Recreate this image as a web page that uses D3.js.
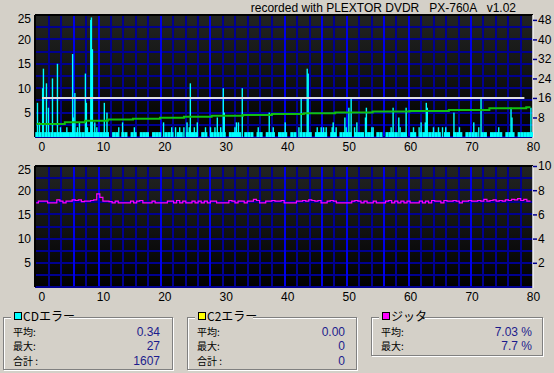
<!DOCTYPE html>
<html><head><meta charset="utf-8">
<script src="https://cdn.jsdelivr.net/npm/d3@7"></script>
<style>
body{margin:0;background:#d4d0c8;}
svg{display:block;font-family:"Liberation Sans",Arial,sans-serif;}
</style></head><body><div id="chart"></div>
<script>
// C1 spikes [minute, errors]
const c1Spikes = [[-0.68,7],[-0.36,3],[0.16,10],[0.29,14],[0.78,11],[1.1,6],[1.76,12],[2.57,15],[3.06,2],[4.1,2],
  [5.04,17],[5.17,4],[5.41,9],[5.82,2],[6.15,3],[7.12,13],[7.28,7],[7.45,2],[8.0,24],[8.1,24.5],[8.26,18],[8.65,3],[8.98,2],
  [10.2,7],[10.63,5],[12.55,2],[13.17,3],[15.09,2],[19.84,3],[21.17,2],[21.79,2],[22.47,2],[23.15,2],[23.66,3],[24.03,2],
  [24.2,11],[24.85,2],[25.33,3],[26.67,2],[27.48,2],[28.2,2],[28.59,4],[29.14,2],[29.56,10],[29.72,5],[31.46,2],[31.7,3],
  [32.03,3],[32.65,10],[35.25,2],[37.04,5],[37.69,2],[39.64,3],[41.87,2],[42.24,8],[43.22,14],[43.38,13],[44.85,2],[45.5,2],
  [45.89,2],[46.31,2],[47.28,2],[47.45,3],[47.93,2],[49.35,4],[49.56,2],[50.0,6],[50.37,8],[50.93,2],[51.3,3],[52.7,4],
  [52.85,6],[53.74,2],[53.95,2],[56.88,2],[57.2,6],[58.13,4],[58.34,2],[59.32,6],[60.52,2],[61.43,2],[61.76,3],[62.44,3],
  [62.6,7],[62.76,6],[63.77,2],[64.59,2],[65.24,2],[65.77,2],[67.1,5],[68.0,2],[70.33,3],[71.14,2],[71.51,8],[74.39,2],
  [76.39,6],[76.55,4],[79.63,6]];
// C1 low level, one value per half minute from -1.0
const c1BaseStart = -1.0, c1BaseStep = 0.5;
const c1Base = [1,1,1,1,1,1,1,1,1,1, 1,1,1,1,1,1,1,1,1,1, 1,1,1,1,0,1,1,0,1,1, 0,1,1,0,1,1,1,0,1,1,
  1,0,1,1,1,0,1,1,0,1, 1,1,1,0,1,1,0,1,1,1, 1,1,0,1,1,1,1,0,1,1, 1,0,1,1,0,1,1,1,0,1,
  1,1,0,1,1,0,1,1,1,1, 0,1,1,1,1,0,1,1,0,1, 1,1,1,0,1,1,1,0,1,1, 0,1,1,0,1,1,1,1,0,1,
  1,0,1,1,0,1,1,1,1,1, 1,1,0,1,1,0,1,1,1,0, 1,1,1,1,0,1,1,0,1,1, 1,1,0,1,1,1,0,1,1,1, 1,1];
// read speed (right axis) step points
const speedSteps = [[-0.8,5.3],[3.8,6.0],[7.1,6.7],[10.8,7.2],[14.9,7.5],[19.3,7.9],[23.2,8.3],[27.7,8.7],[32.8,9.0],
  [37.5,9.4],[42.7,9.7],[47.8,10.0],[53.9,10.4],[59.9,10.7],[66.3,11.1],[72.9,11.8],[78.9,12.2],[79.6,12.2]];
const writeSpeed = [[0.1,16],[78.6,16]];
// jitter %, one value per half minute from -1.0
const jitStart = -1.0, jitStep = 0.5;
const jitter = [6.95,7.1,7.1,7.1,6.95,6.95,6.95,7.2,7.1,6.95, 7.1,7.1,7.2,7.15,7.2,7.05,7.1,7.1,7.15,7.2,
  7.7,7.4,7.1,7.1,7.05,6.95,7.1,6.95,6.95,6.95, 6.95,7.1,6.95,7.1,7.15,6.95,6.95,6.95,7.1,6.95,
  6.95,6.95,6.95,7.1,7.1,6.95,7.15,6.95,7.1,6.95, 6.95,7.1,6.95,7.1,6.95,7.1,6.95,7.1,7.1,6.95,
  6.95,6.95,6.95,7.15,7.1,6.95,7.1,7.1,6.95,7.1, 7.1,7.25,7.15,6.95,6.95,7.1,7.1,7.15,7.1,7.1,
  7.15,6.95,6.95,6.95,6.95,7.1,7.1,7.15,7.1,7.2, 7.15,7.1,7.15,6.95,6.95,7.1,7.15,7.1,6.95,6.95,
  6.95,6.95,6.95,7.1,7.15,7.1,6.95,7.1,6.95,6.95, 7.1,6.95,6.95,6.95,7.1,7.15,6.95,7.1,6.95,7.1,
  6.95,7.1,6.95,6.95,6.95,7.1,6.95,7.1,6.95,7.15, 7.1,7.1,6.95,7.15,7.1,7.1,7.15,7.1,6.95,7.1,
  7.1,7.15,7.1,7.1,7.15,7.1,7.25,7.1,7.15,7.2, 7.1,7.15,7.1,7.2,7.15,7.25,7.2,7.3,7.15,7.25, 7.1,7.1];

const xTicks = [0,10,20,30,40,50,60,70,80];
const leftTicks = [5,10,15,20,25];
const speedTicks = [8,16,24,32,40,48];
const jitterTicks = [2,4,6,8,10];
const brightCols = [3,5,10,14,20,23,25,28,30,35];

const statTitles = ["CDエラー","C2エラー","ジッタ"];
const statColors = ["#00ffff","#ffff00","#ff00ff"];
const statLabels = [["平均:","最大:","合計 :"],["平均:","最大:","合計 :"],["平均:","最大:"]];
const statValues = [["0.34","27","1607"],["0.00","0","0"],["7.03 %","7.7 %"]];

const W = 554, H = 373;
const svg = d3.select("#chart").append("svg").attr("width", W).attr("height", H);

const grad = svg.append("defs").append("linearGradient").attr("id","bg")
  .attr("x1",0).attr("y1",0).attr("x2",0).attr("y2",1);
grad.append("stop").attr("offset",0).attr("stop-color","#222422");
grad.append("stop").attr("offset",0.5).attr("stop-color","#121312");
grad.append("stop").attr("offset",1).attr("stop-color","#000000");

let left = 35, right = 533;
let x = d3.scaleLinear().domain([-1.05, 80]).range([left, right]);
let gx = d3.scaleLinear().domain([0, 40]).range([36.6, right]);
let gridCol = "#000090", brightCol = "#0000e8";

function panel(top, bottom, rightMax, rightTicks) {
  let g = svg.append("g");
  let yL = d3.scaleLinear().domain([0, 25]).range([bottom, top]);
  let yR = d3.scaleLinear().domain([0, rightMax]).range([bottom, top]);

  g.append("rect").attr("x", left).attr("y", top).attr("width", right - left).attr("height", bottom - top)
    .attr("fill", "url(#bg)");

  g.selectAll(".hg").data(d3.range(2.5, 25, 2.5)).enter().append("line")
    .attr("x1", left).attr("x2", right).attr("y1", d => Math.round(yL(d))).attr("y2", d => Math.round(yL(d)))
    .attr("stroke", gridCol).attr("stroke-width", 2);
  g.selectAll(".vg").data(d3.range(1, 40)).enter().append("line")
    .attr("x1", d => Math.round(gx(d))).attr("x2", d => Math.round(gx(d)))
    .attr("y1", top).attr("y2", bottom)
    .attr("stroke", d => brightCols.includes(d) ? brightCol : gridCol).attr("stroke-width", 2);

  // frame
  g.append("line").attr("x1", left).attr("x2", right).attr("y1", bottom).attr("y2", bottom)
    .attr("stroke", gridCol).attr("stroke-width", 2);
  g.append("line").attr("x1", left).attr("x2", right).attr("y1", top).attr("y2", top)
    .attr("stroke", "#000").attr("stroke-width", 2);
  g.append("line").attr("x1", left).attr("x2", left).attr("y1", top).attr("y2", bottom)
    .attr("stroke", "#000").attr("stroke-width", 2);
  g.append("line").attr("x1", right).attr("x2", right).attr("y1", top).attr("y2", bottom + 1)
    .attr("stroke", "#f0f0f0").attr("stroke-width", 1.5);

  let ax = g.append("g").attr("transform", "translate(0," + (bottom + 3) + ")")
    .call(d3.axisBottom(x).tickValues(xTicks).tickSize(0).tickPadding(0));
  ax.select(".domain").remove();
  ax.selectAll("text").attr("dy", "0.95em");

  let al = g.append("g").attr("transform", "translate(" + (left - 4) + ",0)")
    .call(d3.axisLeft(yL).tickValues(leftTicks).tickSize(0).tickPadding(0));
  al.select(".domain").remove();
  al.selectAll("text").attr("dy", d => d == 25 ? "0.6em" : "0.32em");

  let ar = g.append("g").attr("transform", "translate(" + right + ",0)")
    .call(d3.axisRight(yR).tickValues(rightTicks).tickSize(4).tickPadding(1));
  ar.select(".domain").remove();
  ar.selectAll("line").attr("stroke", gridCol).attr("stroke-width", 1.5);

  [ax, al, ar].forEach(a => a.selectAll("text").attr("font-size", 12)
    .attr("font-family", "Liberation Sans, Arial, sans-serif").attr("fill", "#000"));

  return {g: g, yL: yL, yR: yR};
}

// top chart: C1 errors + speed
let p1 = panel(15, 137, 50, speedTicks);
let bw = x(c1BaseStep) - x(0);
p1.g.selectAll(".base").data(c1Base).enter().append("rect")
  .attr("x", (d, i) => x(c1BaseStart + i * c1BaseStep))
  .attr("y", d => p1.yL(d))
  .attr("width", bw)
  .attr("height", d => p1.yL(0) - p1.yL(d))
  .attr("fill", "#00ffff");
p1.g.selectAll(".spike").data(c1Spikes).enter().append("rect")
  .attr("x", d => x(d[0]) - 0.5)
  .attr("y", d => p1.yL(d[1]))
  .attr("width", 1.4)
  .attr("height", d => p1.yL(0) - p1.yL(d[1]))
  .attr("fill", "#00ffff");
p1.g.append("path").datum(writeSpeed)
  .attr("d", d3.line().x(d => x(d[0])).y(d => p1.yR(d[1])))
  .attr("stroke", "#e0e0e0").attr("stroke-width", 2).attr("fill", "none");
p1.g.append("path").datum(speedSteps)
  .attr("d", d3.line().curve(d3.curveStepAfter).x(d => x(d[0])).y(d => p1.yR(d[1])))
  .attr("stroke", "#10c010").attr("stroke-width", 2).attr("fill", "none");

// bottom chart: jitter
let p2 = panel(166, 287, 10, jitterTicks);
let jit = jitter.map((v, i) => [jitStart + i * jitStep, v]);
jit.push([79.6, jitter[jitter.length - 1]]);
p2.g.append("path").datum(jit)
  .attr("d", d3.line().curve(d3.curveStepAfter).x(d => x(Math.max(d[0], -0.85))).y(d => p2.yR(d[1])))
  .attr("stroke", "#ff00ff").attr("stroke-width", 1.2).attr("fill", "none");

// title
svg.append("text").attr("x", 516).attr("y", 12).attr("text-anchor", "end")
  .attr("font-size", 12).style("white-space", "pre")
  .text("recorded with PLEXTOR DVDR   PX-760A   v1.02");

// stats boxes
let boxes = [{x: 4, w: 169, h: 52}, {x: 188, w: 169, h: 52}, {x: 372, w: 171, h: 38}];
let valueRight = [160, 345, 532];
let rowGap = 14.5;
boxes.forEach((b, i) => {
  let g = svg.append("g");
  let by = 318;
  g.append("rect").attr("x", b.x + 0.5).attr("y", by + 0.5).attr("width", b.w).attr("height", b.h)
    .attr("fill", "none").attr("stroke", "#ffffff");
  g.append("rect").attr("x", b.x - 0.5).attr("y", by - 0.5).attr("width", b.w).attr("height", b.h)
    .attr("fill", "none").attr("stroke", "#808080");
  g.append("rect").attr("x", b.x + 7).attr("y", by - 4).attr("width", i == 2 ? 44 : 58).attr("height", 8)
    .attr("fill", "#d4d0c8");
  g.append("rect").attr("x", b.x + 10.5).attr("y", by - 5.5).attr("width", 7).attr("height", 7)
    .attr("fill", statColors[i]).attr("stroke", "#000");
  g.append("text").attr("x", b.x + 19).attr("y", by + 3).attr("font-size", 12)
    .attr("font-family", "Noto Sans CJK JP, sans-serif").text(statTitles[i]);

  statLabels[i].forEach((t, j) => {
    g.append("text").attr("x", b.x + 9).attr("y", by + 17.5 + j * rowGap).attr("font-size", 10)
      .attr("font-family", "Noto Sans CJK JP, sans-serif").text(t);
    g.append("text").attr("x", valueRight[i]).attr("y", by + 17.5 + j * rowGap).attr("font-size", 12)
      .attr("text-anchor", "end").attr("fill", "#1c1c8c").style("white-space", "pre").text(statValues[i][j]);
  });
});
</script></body></html>
